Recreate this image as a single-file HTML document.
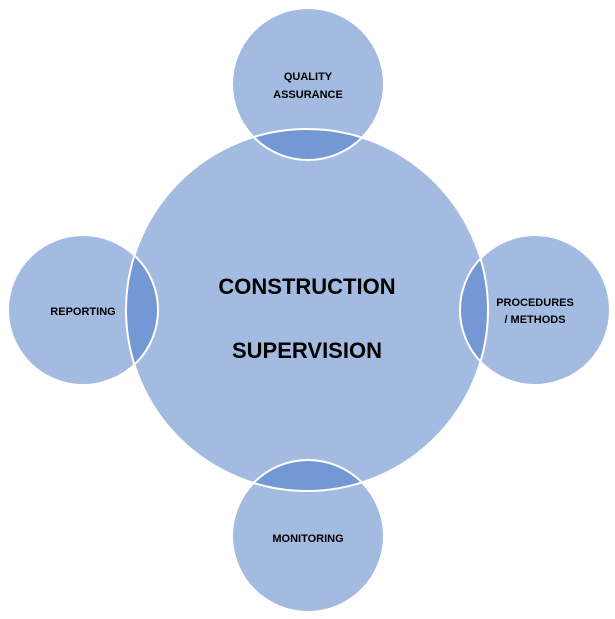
<!DOCTYPE html>
<html><head><meta charset="utf-8"><style>
html,body{margin:0;padding:0;background:#fff;}
svg{display:block;}
text{font-family:"Liberation Sans",Arial,sans-serif;font-weight:bold;fill:#000;text-anchor:middle;}
</style></head><body>
<svg width="615" height="619" viewBox="0 0 615 619" xmlns="http://www.w3.org/2000/svg">
<defs>
<clipPath id="main"><circle cx="307" cy="310" r="181"/></clipPath>
</defs>
<circle cx="307" cy="310" r="181" fill="#a3bbe1"/>
<g fill="#a3bbe1">
<circle cx="308" cy="84" r="76"/>
<circle cx="83" cy="310" r="75"/>
<circle cx="535" cy="310" r="75"/>
<circle cx="308" cy="536" r="76"/>
</g>
<g fill="#7398d3" clip-path="url(#main)">
<circle cx="308" cy="84" r="76"/>
<circle cx="83" cy="310" r="75"/>
<circle cx="535" cy="310" r="75"/>
<circle cx="308" cy="536" r="76"/>
</g>
<g fill="none" stroke="#fff" stroke-width="2">
<circle cx="307" cy="310" r="181"/>
<circle cx="308" cy="84" r="76"/>
<circle cx="83" cy="310" r="75"/>
<circle cx="535" cy="310" r="75"/>
<circle cx="308" cy="536" r="76"/>
</g>
<text x="307" y="294" font-size="22">CONSTRUCTION</text>
<text x="307" y="358" font-size="22">SUPERVISION</text>
<text x="308" y="80" font-size="11">QUALITY</text>
<text x="308" y="98" font-size="11">ASSURANCE</text>
<text x="83" y="315" font-size="11">REPORTING</text>
<text x="535" y="306" font-size="11">PROCEDURES</text>
<text x="535" y="323" font-size="11">/ METHODS</text>
<text x="308" y="542" font-size="11">MONITORING</text>
</svg>
</body></html>
